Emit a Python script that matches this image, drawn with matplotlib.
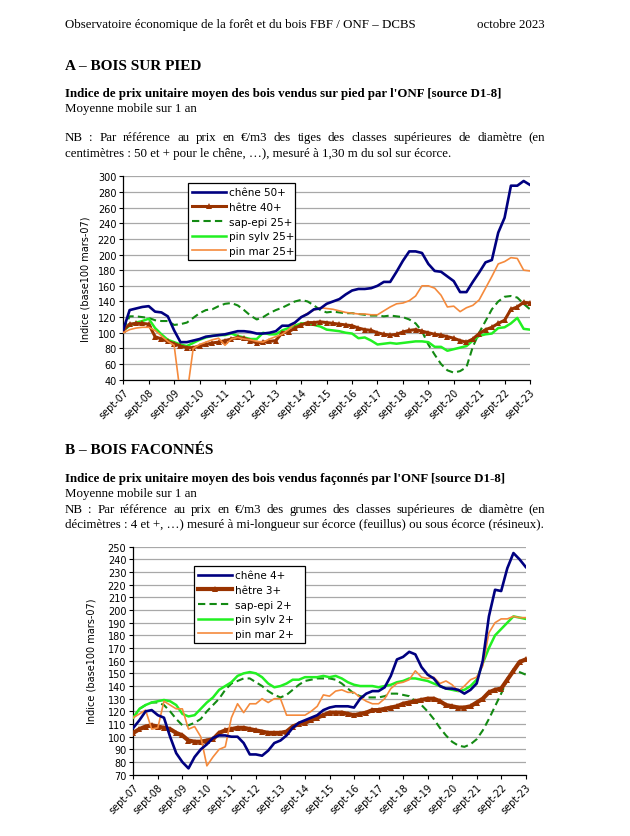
import numpy as np
import matplotlib
matplotlib.use("Agg")
import matplotlib.pyplot as plt

W, H = 630, 837

# x axis: one point per quarter, sept-07 .. sept-23
years = np.arange(65) / 4.0
tick_labels = ["sept-%02d" % y for y in range(7, 24)]

# A - bois sur pied
a_chene = [104, 129, 131, 133, 134, 127, 126, 121, 103, 88, 88, 90, 92, 95, 96, 97,
           98, 100, 102, 102, 101, 99, 99, 100, 102, 109, 109, 113, 120, 124, 130, 131,
           137, 140, 143, 149, 154, 156, 156, 157, 160, 165, 165, 178, 192, 204, 204, 202,
           188, 179, 178, 172, 166, 152, 152, 165, 177, 190, 193, 228, 247, 288, 288, 294, 289]
a_hetre = [103, 111, 112, 112, 111, 95, 92, 89, 86, 83, 81, 81, 83, 85, 87, 88,
           90, 92, 94, 93, 90, 87, 88, 89, 90, 100, 101, 106, 110, 113, 113, 114,
           113, 112, 111, 110, 109, 106, 104, 103, 100, 98, 97, 98, 101, 103, 104, 102,
           100, 98, 97, 95, 93, 90, 88, 92, 99, 104, 107, 112, 116, 130, 133, 139, 138]
a_sapepi = [104, 121, 121, 120, 119, 116, 115, 115, 110, 111, 113, 119, 125, 129, 130, 134,
            137, 138, 135, 129, 122, 117, 120, 125, 129, 132, 136, 140, 142, 140, 135, 129,
            126, 127, 126, 125, 125, 124, 123, 122, 122, 121, 122, 121, 120, 117, 112, 102,
            85, 72, 60, 52, 49, 51, 56, 82, 100, 115, 130, 140, 146, 147, 145, 137, 130]
a_pinsylv = [103, 109, 113, 115, 118, 106, 98, 91, 88, 85, 83, 87, 91, 94, 96, 97,
             97, 99, 96, 94, 92, 92, 100, 98, 98, 103, 106, 109, 112, 112, 110, 108,
             104, 103, 102, 100, 99, 93, 94, 90, 85, 86, 87, 86, 87, 88, 89, 89,
             88, 82, 82, 77, 79, 81, 83, 90, 96, 98, 99, 106, 107, 112, 119, 105, 104]
a_pinmar = [100, 104, 106, 107, 107, 103, 96, 89, 84, 20, 20, 80, 85, 88, 91, 93,
            84, 92, 94, 92, 91, 89, 88, 92, 95, 98, 104, 112, 120, 125, 129, 132,
            131, 130, 128, 126, 125, 124, 124, 123, 123, 128, 133, 137, 138, 141, 147, 160,
            160, 157, 148, 133, 134, 127, 132, 135, 142, 157, 172, 188, 191, 196, 195, 180, 179]

# B - bois faconnes
b_chene = [107, 113, 120, 121, 117, 115, 100, 87, 80, 75, 84, 90, 94, 99, 101, 101,
           100, 100, 95, 86, 86, 85, 89, 95, 97, 101, 107, 111, 113, 115, 117, 121,
           123, 124, 124, 124, 123, 130, 134, 136, 136, 139, 148, 161, 163, 167, 165, 155,
           149, 146, 140, 138, 138, 137, 134, 137, 142, 160, 195, 216, 215, 233, 245, 240, 234]
b_hetre = [103, 106, 108, 109, 108, 107, 106, 103, 101, 97, 96, 96, 97, 98, 103, 105,
           106, 107, 107, 106, 105, 104, 103, 103, 103, 104, 108, 110, 111, 113, 115, 117,
           119, 119, 119, 118, 117, 118, 119, 121, 121, 122, 123, 124, 126, 127, 128, 129,
           130, 130, 128, 125, 124, 123, 123, 124, 127, 130, 135, 137, 138, 145, 152, 159, 161]
b_sapepi = [115, 122, 125, 127, 127, 125, 120, 114, 109, 109, 111, 114, 120, 125, 130, 137,
            142, 144, 146, 146, 143, 140, 136, 133, 131, 133, 137, 141, 144, 145, 146, 146,
            146, 145, 142, 138, 134, 132, 131, 131, 131, 132, 134, 134, 133, 132, 128, 125,
            120, 114, 107, 101, 96, 93, 92, 94, 98, 105, 114, 124, 134, 145, 153, 151, 149]
b_pinsylv = [115, 122, 125, 127, 128, 129, 128, 125, 118, 116, 117, 122, 127, 131, 137, 140,
             143, 148, 150, 151, 150, 147, 142, 139, 140, 142, 145, 145, 147, 147, 147, 148,
             147, 148, 146, 143, 141, 140, 140, 140, 139, 140, 141, 143, 144, 146, 146, 145,
             144, 142, 140, 138, 137, 136, 137, 140, 145, 158, 170, 180, 185, 190, 195, 194, 193]
b_pinmar = [115, 118, 121, 106, 107, 128, 125, 122, 122, 106, 108, 100, 77, 84, 90, 92,
            115, 126, 119, 126, 126, 130, 127, 130, 130, 117, 117, 117, 117, 120, 124, 133,
            132, 136, 137, 135, 135, 131, 128, 126, 126, 130, 138, 142, 143, 145, 152, 147,
            146, 147, 142, 144, 141, 136, 140, 145, 147, 156, 182, 190, 193, 193, 195, 194, 194]

navy, brown, dgreen, lime, orange = "#000080", "#993300", "#138a13", "#22f022", "#f58a3c"

fig = plt.figure(figsize=(W / 100, H / 100), dpi=100)
serif = "Liberation Serif"
fs = 9.3


def ftext(x, y, s, **kw):
    kw.setdefault("family", serif)
    kw.setdefault("va", "center")
    return fig.text(x / W, 1 - y / H, s, **kw)


def justify(y, line, x0=65, x1=545, size=fs):
    words = line.split(" ")
    arts = [ftext(0, y, w, size=size) for w in words]
    r = fig.canvas.get_renderer()
    widths = [t.get_window_extent(r).width for t in arts]
    gap = (x1 - x0 - sum(widths)) / (len(words) - 1)
    x = x0
    for t, w in zip(arts, widths):
        t.set_x(x / W)
        x += w + gap


ftext(65, 25, "Observatoire économique de la forêt et du bois FBF / ONF – DCBS", size=fs)
ftext(545, 25, "octobre 2023", size=fs, ha="right")

ftext(65, 66, "A – BOIS SUR PIED", size=11, weight="bold")
ftext(65, 94, "Indice de prix unitaire moyen des bois vendus sur pied par l'ONF [source D1-8]",
      size=fs, weight="bold")
ftext(65, 109, "Moyenne mobile sur 1 an", size=fs)
justify(138, "NB : Par référence au prix en €/m3 des tiges des classes supérieures de diamètre (en")
ftext(65, 154, "centimètres : 50 et + pour le chêne, …), mesuré à 1,30 m du sol sur écorce.", size=fs)

ftext(65, 451, "B – BOIS FACONNÉS", size=11, weight="bold")
ftext(65, 479, "Indice de prix unitaire moyen des bois vendus façonnés par l'ONF [source D1-8]",
      size=fs, weight="bold")
ftext(65, 494, "Moyenne mobile sur 1 an", size=fs)
justify(510, "NB : Par référence au prix en €/m3 des grumes des classes supérieures de diamètre (en")
ftext(65, 525, "décimètres : 4 et +, …) mesuré à mi-longueur sur écorce (feuillus) ou sous écorce (résineux).",
      size=fs)


def chart(rect, series, labels, ylim, ystep, legend_box, ylab_x, hetre_lw):
    ax = fig.add_axes(rect)
    chene, hetre, sapepi, pinsylv, pinmar = series
    ax.plot(years, chene, color=navy, lw=1.9, label=labels[0], zorder=5)
    ax.plot(years, hetre, color=brown, lw=hetre_lw, marker="^", ms=4.5, mew=0,
            label=labels[1], zorder=4)
    ax.plot(years, sapepi, color=dgreen, lw=1.5, ls=(0, (3.5, 2)), label=labels[2], zorder=3)
    ax.plot(years, pinsylv, color=lime, lw=1.8, label=labels[3], zorder=3)
    ax.plot(years, pinmar, color=orange, lw=1.2, label=labels[4], zorder=4)
    ax.set_xlim(0, 16)
    ax.set_ylim(*ylim)
    ax.set_yticks(np.arange(ylim[0], ylim[1] + 1, ystep))
    ax.set_xticks(np.arange(17))
    ax.set_xticklabels(tick_labels, rotation=45, ha="right", va="top", rotation_mode="anchor")
    ax.tick_params(labelsize=7, length=3, width=0.8, pad=2)
    for lab in ax.get_xticklabels() + ax.get_yticklabels():
        lab.set_family("DejaVu Sans")
    ax.grid(axis="y", color="#a8a8a8", lw=0.9)
    ax.set_axisbelow(True)
    for s in ("top", "right"):
        ax.spines[s].set_visible(False)
    for s in ("left", "bottom"):
        ax.spines[s].set_linewidth(0.9)
    x0, y0, x1, y1 = legend_box
    leg = ax.legend(loc="upper left",
                    bbox_to_anchor=(x0 / W, 1 - y1 / H, (x1 - x0) / W, (y1 - y0) / H),
                    bbox_transform=fig.transFigure, mode="expand", fancybox=False, framealpha=1,
                    edgecolor="black", handlelength=3.2, handletextpad=0.3,
                    labelspacing=0.45, borderpad=0.4, borderaxespad=0,
                    prop={"family": "DejaVu Sans", "size": 7.5})
    leg.get_frame().set_linewidth(0.9)
    leg.set_zorder(10)
    cy = H * (1 - (rect[1] + rect[3] / 2))
    fig.text(ylab_x / W, 1 - cy / H, "Indice (base100 mars-07)", rotation=90,
             ha="center", va="center", size=7, family="DejaVu Sans")
    return ax


chart([123.3 / W, 1 - 380.7 / H, (530 - 123.3) / W, (380.7 - 177.3) / H],
      [a_chene, a_hetre, a_sapepi, a_pinsylv, a_pinmar],
      ["chêne 50+", "hêtre 40+", "sap-epi 25+", "pin sylv 25+", "pin mar 25+"],
      (40, 300), 20, (188, 184, 295, 262), 85, 2.2)

chart([133.3 / W, 1 - 775.7 / H, (525.7 - 133.3) / W, (775.7 - 547.7) / H],
      [b_chene, b_hetre, b_sapepi, b_pinsylv, b_pinmar],
      ["chêne 4+", "hêtre 3+", "sap-epi 2+", "pin sylv 2+", "pin mar 2+"],
      (70, 250), 10, (194, 567, 305, 645), 92, 3.0)

fig.savefig("out.png", dpi=100, facecolor="white")
